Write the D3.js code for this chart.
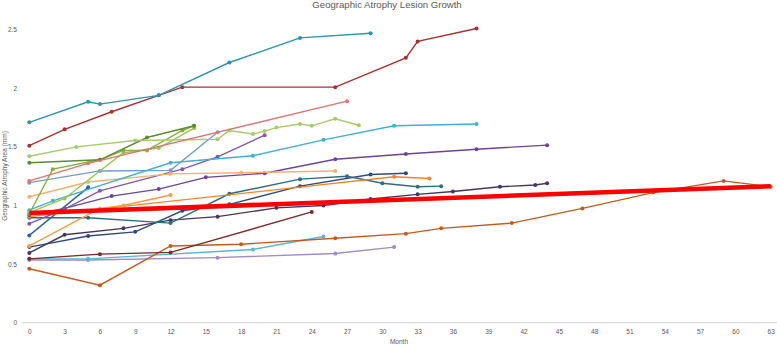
<!DOCTYPE html>
<html><head><meta charset="utf-8">
<script src="https://cdn.jsdelivr.net/npm/d3@7/dist/d3.min.js"></script>
<style>body{margin:0;background:#fff}svg{display:block}</style>
</head><body><svg id="c" width="777" height="345"></svg>
<script>
const title = "Geographic Atrophy Lesion Growth";
const xTicks = d3.range(0, 64, 3);
const yTicks = [0, 0.5, 1, 1.5, 2, 2.5];

// each series: [month, area]
const sTeal = [[0,1.71],[5,1.885],[6,1.865],[11,1.94],[17,2.22],[23,2.43],[29,2.47]];
const sRed = [[0,1.51],[3,1.65],[7,1.80],[11,1.94],[13,2.01],[26,2.01],[32,2.26],[33,2.40],[38,2.51]];
const sSalmon = [[0,1.21],[5,1.36],[27,1.89]];
const sLightGreen = [[0,1.42],[4,1.50],[9,1.555],[16,1.565],[17,1.64],[19,1.61],[20,1.635],[21,1.665],[23,1.695],[24,1.68],[26,1.74],[28,1.685]];
const sOlive = [[0,1.365],[6,1.39],[10,1.58],[14,1.68]];
const sGreen = [[0,0.93],[2,1.31],[6,1.39],[8,1.47],[10,1.47],[13,1.64],[14,1.68]];
const sYellowGreen = [[0,0.94],[3,1.06],[8,1.45],[11,1.49],[14,1.66]];
const sCyan = [[0,0.96],[2,1.04],[12,1.365],[19,1.425],[25,1.56],[31,1.68],[38,1.695]];
const sLightBlue = [[0,1.195],[6,1.295],[12,1.30],[16,1.625]];
const sLightOrange = [[0,1.075],[5,1.20],[12,1.27],[18,1.28],[26,1.295]];
const sPurpleA = [[0,0.845],[3,0.97],[6,1.125],[13,1.31],[16,1.415],[20,1.60]];
const sPurpleB = [[0,0.92],[3,0.975],[7,1.08],[11,1.14],[15,1.24],[20,1.275],[26,1.395],[32,1.44],[38,1.48],[44,1.515]];
const sOrangeShort = [[0,0.655],[6,0.975],[8,1.0],[12,1.09]];
const sOrange = [[0,0.905],[31,1.245],[34,1.23]];
const sDarkTeal = [[0,0.895],[5,0.895],[12,0.85],[17,1.10],[23,1.225],[27,1.25],[30,1.19],[33,1.16],[35,1.165]];
const sBlue = [[0,0.745],[5,1.155]];
const sNavy = [[0,0.645],[5,0.74],[9,0.775],[13,0.955],[17,1.01],[23,1.165],[29,1.265],[32,1.275]];
const sIndigo = [[0,0.595],[3,0.75],[8,0.805],[12,0.875],[16,0.905],[21,0.98],[25,1.0],[29,1.055],[33,1.095],[36,1.12],[40,1.16],[43,1.175],[44,1.19]];
const sMaroon = [[0,0.545],[6,0.585],[12,0.60],[24,0.945]];
const sBurnt = [[0,0.46],[6,0.32],[12,0.655],[18,0.67],[26,0.72],[32,0.76],[35,0.805],[41,0.85],[47,0.975],[53,1.11],[59,1.21],[63,1.16]];
const sSky = [[0,0.545],[5,0.545],[19,0.625],[25,0.735]];
const sLavender = [[0,0.535],[5,0.535],[16,0.555],[26,0.59],[31,0.645]];
const trend = [[0,0.935],[63,1.165]];

const seriesList = [sLavender, sSky, sBurnt, sMaroon, sIndigo, sNavy, sBlue, sDarkTeal, sOrange, sOrangeShort,
  sPurpleB, sPurpleA, sLightOrange, sLightBlue, sCyan, sYellowGreen, sGreen, sOlive, sLightGreen, sSalmon, sRed, sTeal];
const seriesColors = ["#9F8BC6","#5BB7D6","#C55A1C","#7A2A2A","#45365F","#2F4A78","#2E62A0","#2C6E7E","#F5842A","#F89A45",
  "#6A4499","#8058AE","#F9AF72","#6F9CD6","#3FB0D0","#9DC451","#84B13D","#5E8A31","#A9CA6C","#DE7470","#A9302E","#2E93AF"];

const svg = d3.select("#c");
const x = d3.scaleLinear().domain([0, 63]).range([29.3, 770.7]);
const y = d3.scaleLinear().domain([0, 2.5]).range([322.7, 29.7]);

svg.append("text").attr("x", 387).attr("y", 8).attr("text-anchor", "middle")
  .attr("font-family", "Liberation Sans, Arial, sans-serif").attr("font-size", 9.6).attr("fill", "#595959").text(title);

// x axis
const xa = svg.append("g").attr("transform", "translate(0,322.7)")
  .call(d3.axisBottom(x).tickValues(xTicks).tickSize(0).tickPadding(7).tickFormat(d3.format("d")));
xa.select(".domain").attr("d", "M22,0H777").attr("stroke", "#D9D9D9").attr("stroke-width", 1.2);
xa.selectAll("text").attr("font-family", "Liberation Sans, Arial, sans-serif").attr("font-size", 6.5).attr("fill", "#595959");

// y axis
const ya = svg.append("g").attr("transform", "translate(17,0)")
  .call(d3.axisLeft(y).tickValues(yTicks).tickSize(0).tickPadding(0).tickFormat(d => String(d)));
ya.select(".domain").remove();
ya.selectAll("text").attr("font-family", "Liberation Sans, Arial, sans-serif").attr("font-size", 6.5).attr("fill", "#595959");

svg.append("text").attr("transform", "translate(7,176) rotate(-90)").attr("text-anchor", "middle")
  .attr("font-family", "Liberation Sans, Arial, sans-serif").attr("font-size", 6.5).attr("fill", "#595959")
  .text("Geographic Atrophy Area (mm)");
svg.append("text").attr("x", 399).attr("y", 344).attr("text-anchor", "middle")
  .attr("font-family", "Liberation Sans, Arial, sans-serif").attr("font-size", 6.5).attr("fill", "#595959").text("Month");

const line = d3.line().x(d => x(d[0])).y(d => y(d[1]));
const g = svg.append("g");
seriesList.forEach((s, i) => {
  const c = seriesColors[i];
  g.append("path").datum(s).attr("d", line).attr("fill", "none").attr("stroke", c).attr("stroke-width", 1.4);
  g.selectAll(null).data(s).enter().append("circle")
    .attr("cx", d => x(d[0])).attr("cy", d => y(d[1])).attr("r", 2).attr("fill", c);
});
svg.append("path").datum(trend).attr("d", line).attr("fill", "none").attr("stroke", "#FF0000").attr("stroke-width", 4.5);
</script></body></html>
